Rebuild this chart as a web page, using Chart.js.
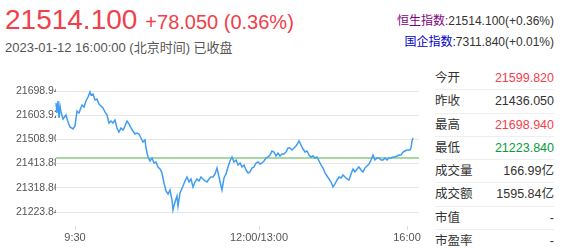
<!DOCTYPE html>
<html>
<head>
<meta charset="utf-8">
<script src="https://cdn.jsdelivr.net/npm/chart.js@4"></script>
<style>
    body { margin: 0; width: 562px; height: 251px; background: #fff; position: relative; overflow: hidden;
           font-family: Arial, "Liberation Sans", "Noto Sans CJK SC", sans-serif; color: #333; }
    .price { position: absolute; left: 5px; top: 4px; color: #f2404a; white-space: nowrap; }
    .price .big { font-size: 28px; }
    .price .chg { font-size: 20px; margin-left: 8px; }
    .time { position: absolute; left: 5px; top: 40px; font-size: 13px; line-height: 15px; color: #555; white-space: nowrap; }
    .idx { position: absolute; right: 8px; font-size: 12px; line-height: 14px; white-space: nowrap; color: #333; }
    .idx .hs { color: #800080; }
    .idx .gq { color: #0000cc; }
    #chartBox { position: absolute; left: 0; top: 60px; width: 425px; height: 191px; }
    .stats { position: absolute; left: 435px; top: 67px; width: 119px; }
    .row { height: 23.3px; line-height: 23px; font-size: 12.5px; display: flex; justify-content: space-between;
           border-bottom: 1px solid #eee; box-sizing: border-box; }
    .row:last-child { border-bottom: none; }
    .row .lbl { color: #333; }
    .up { color: #f5404e; }
    .down { color: #0a9a3c; }
</style>
</head>
<body>
<div class="price"><span class="big">21514.100</span><span class="chg">+78.050 (0.36%)</span></div>
<div class="time">2023-01-12 16:00:00 (北京时间) 已收盘</div>
<div class="idx" style="top:14px"><span class="hs">恒生指数:</span>21514.100(+0.36%)</div>
<div class="idx" style="top:35px"><span class="gq">国企指数:</span>7311.840(+0.01%)</div>

<div id="chartBox"><canvas id="chart"></canvas></div>

<div class="stats">
    <div class="row"><span class="lbl">今开</span><span class="up">21599.820</span></div>
    <div class="row"><span class="lbl">昨收</span><span>21436.050</span></div>
    <div class="row"><span class="lbl">最高</span><span class="up">21698.940</span></div>
    <div class="row"><span class="lbl">最低</span><span class="down">21223.840</span></div>
    <div class="row"><span class="lbl">成交量</span><span>166.99亿</span></div>
    <div class="row"><span class="lbl">成交额</span><span>1595.84亿</span></div>
    <div class="row"><span class="lbl">市值</span><span>-</span></div>
    <div class="row"><span class="lbl">市盈率</span><span>-</span></div>
</div>

<script>
// sample index along the trading day and index level
const sampleIdx = [0, 1, 2, 3, 4, 5, 7, 10, 12, 14, 17, 19, 21, 23, 26, 28, 30, 32, 34, 35,
    37, 39, 41, 43, 45, 47, 49, 51, 53, 55, 57, 59, 61, 63, 65, 67, 69, 71, 73, 75,
    77, 79, 81, 83, 85, 87, 89, 90, 92, 94, 96, 98, 100, 102, 104, 106, 108, 110, 112, 114,
    116, 117, 119, 121, 122, 124, 127, 129, 131, 133, 135, 137, 139, 141, 143, 145, 147, 149, 151, 153,
    155, 157, 159, 161, 163, 165, 166, 168, 170, 172, 174, 176, 178, 180, 182, 184, 186, 188, 190, 192,
    194, 196, 198, 200, 202, 204, 206, 208, 210, 212, 214, 216, 218, 220, 222, 224, 226, 228, 230, 232,
    234, 236, 238, 240, 242, 243, 245, 247, 249, 251, 253, 255, 257, 259, 261, 263, 265, 267, 269, 271,
    273, 275, 277, 279, 281, 283, 285, 287, 289, 291, 293, 295, 297, 299, 301, 303, 305, 307, 309, 311,
    313, 315, 317, 319, 321, 323, 325, 327, 329, 331, 333, 335, 337, 339, 341, 343, 345, 347, 349, 351,
    353, 354, 355, 356, 357];
const hsiValues = [21651.8, 21612.6, 21659.7, 21592.9, 21640.0, 21616.5, 21589.0, 21604.7, 21577.2, 21557.6,
    21549.8, 21561.5, 21620.4, 21612.6, 21644.0, 21636.1, 21659.7, 21675.4, 21695.0, 21683.2,
    21687.2, 21663.6, 21667.5, 21647.9, 21640.0, 21632.2, 21616.5, 21604.7, 21573.3, 21581.1,
    21573.3, 21585.1, 21553.7, 21538.0, 21553.7, 21545.8, 21561.5, 21581.1, 21569.4, 21553.7,
    21541.9, 21530.2, 21534.1, 21530.2, 21514.5, 21498.7, 21506.6, 21475.2, 21439.8, 21424.1,
    21435.9, 21416.3, 21420.2, 21400.6, 21392.7, 21377.0, 21337.7, 21306.3, 21294.6, 21310.3,
    21271.0, 21231.7, 21263.2, 21286.7, 21247.5, 21298.5, 21326.0, 21345.6, 21361.3, 21341.7,
    21353.5, 21322.1, 21341.7, 21353.5, 21345.6, 21361.3, 21353.5, 21345.6, 21341.7, 21353.5,
    21361.3, 21361.3, 21373.1, 21396.6, 21361.3, 21326.0, 21310.3, 21357.4, 21373.1, 21400.6,
    21424.1, 21439.8, 21420.2, 21428.0, 21408.4, 21416.3, 21400.6, 21408.4, 21388.8, 21377.0,
    21380.9, 21396.6, 21400.6, 21416.3, 21420.2, 21412.3, 21416.3, 21424.1, 21435.9, 21439.8,
    21447.7, 21463.4, 21459.4, 21443.8, 21455.5, 21443.8, 21451.6, 21451.6, 21459.4, 21475.2,
    21475.2, 21467.3, 21475.2, 21483.0, 21494.8, 21502.6, 21486.9, 21471.2, 21459.4, 21463.4,
    21447.7, 21439.8, 21443.8, 21435.9, 21439.8, 21424.1, 21408.4, 21396.6, 21377.0, 21365.2,
    21353.5, 21341.7, 21322.1, 21333.9, 21349.5, 21361.3, 21357.4, 21369.1, 21361.3, 21353.5,
    21349.5, 21373.1, 21392.7, 21380.9, 21392.7, 21400.6, 21388.8, 21380.9, 21396.6, 21404.5,
    21412.3, 21428.0, 21447.7, 21428.0, 21435.9, 21435.9, 21428.0, 21428.0, 21435.9, 21428.0,
    21435.9, 21435.9, 21439.8, 21439.8, 21443.8, 21447.7, 21447.7, 21459.4, 21463.4, 21467.3,
    21467.3, 21467.3, 21475.2, 21502.6, 21514.1];
const prevClose = 21436.05;

// axis ticks
const yTicks = [21698.94, 21603.92, 21508.90, 21413.88, 21318.86, 21223.84];
const xTickIdx = [19, 203, 351];
const xTickLabels = ['9:30', '12:00/13:00', '16:00'];
const xMax = 363;
const yMin = 21168.87;
const yMax = 21698.94;

const linePoints = sampleIdx.map((x, i) => ({ x: x, y: hsiValues[i] }));

// fade the tick label tails where they run into the plot, like the original
const labelFade = {
    id: 'labelFade',
    beforeDatasetsDraw(chart) {
        const ctx = chart.ctx;
        const left = chart.chartArea.left;
        const yScale = chart.scales.y;
        ctx.save();
        yScale.ticks.forEach(t => {
            const py = yScale.getPixelForValue(t.value);
            const g = ctx.createLinearGradient(left + 1, 0, left + 7, 0);
            g.addColorStop(0, 'rgba(255,255,255,0)');
            g.addColorStop(1, 'rgba(255,255,255,0.95)');
            ctx.fillStyle = g;
            ctx.fillRect(left + 1, py - 8, 6, 7);
            ctx.fillStyle = 'rgba(255,255,255,0.95)';
            ctx.fillRect(left + 7, py - 8, 10, 7);
            ctx.fillRect(left + 1, py + 1, 16, 7);
        });
        ctx.restore();
    }
};

new Chart(document.getElementById('chart'), {
    type: 'line',
    data: {
        datasets: [{
            data: linePoints,
            borderColor: '#419cf3',
            borderWidth: 1.5,
            pointRadius: 0,
            tension: 0,
            clip: 4,
            order: 0
        }, {
            data: [{ x: 0, y: prevClose }, { x: xMax, y: prevClose }],
            borderColor: '#a6d9a0',
            borderWidth: 2,
            pointRadius: 0,
            order: 1
        }]
    },
    options: {
        responsive: true,
        maintainAspectRatio: false,
        animation: false,
        layout: { padding: { left: 16, top: 31, right: 6, bottom: 0 } },
        plugins: { legend: { display: false }, tooltip: { enabled: false } },
        scales: {
            x: {
                type: 'linear',
                min: 0,
                max: xMax,
                afterBuildTicks: scale => { scale.ticks = xTickIdx.map(v => ({ value: v })); },
                afterFit: scale => { scale.height = 25; },
                grid: { drawOnChartArea: false, drawTicks: true, tickLength: 4, color: '#ddd' },
                border: { display: false },
                ticks: {
                    autoSkip: false,
                    maxRotation: 0,
                    padding: 1,
                    color: '#555',
                    font: { family: 'Arial, "Liberation Sans"', size: 11 },
                    callback: function(value) {
                        const i = xTickIdx.indexOf(value);
                        return i >= 0 ? xTickLabels[i] : '';
                    }
                }
            },
            y: {
                min: yMin,
                max: yMax,
                afterBuildTicks: scale => { scale.ticks = yTicks.map(v => ({ value: v })); },
                afterFit: scale => { scale.width = 40; },
                grid: { drawTicks: false, color: '#e6e6e6' },
                border: { display: false },
                ticks: {
                    crossAlign: 'far',
                    color: '#555',
                    font: { family: 'Arial, "Liberation Sans"', size: 10.5 },
                    callback: value => value.toFixed(3)
                }
            }
        }
    },
    plugins: [labelFade]
});
</script>
</body>
</html>
